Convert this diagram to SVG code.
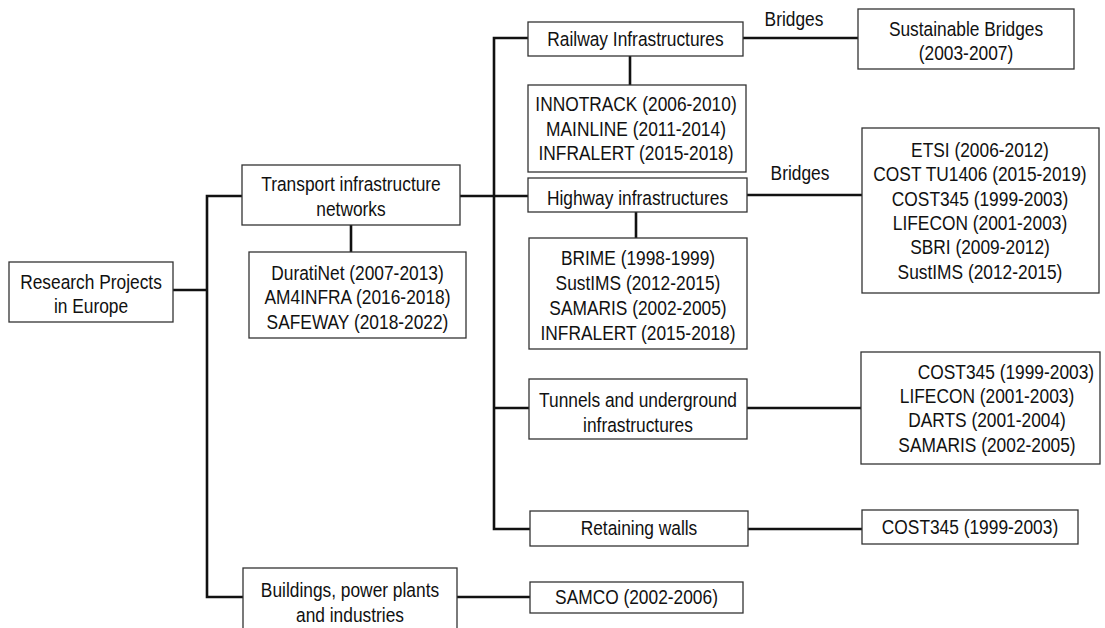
<svg xmlns="http://www.w3.org/2000/svg" width="1105" height="628" viewBox="0 0 1105 628">
<style>
  .box { fill: #ffffff; stroke: #333333; stroke-width: 1.3; }
  .lbl { font-family: "Liberation Sans", Arial, sans-serif; font-size: 19.5px; fill: #111111; text-anchor: middle; }
  .con { fill: none; stroke: #111111; stroke-width: 2.6; }
</style>
<rect x="0" y="0" width="1105" height="628" fill="#ffffff"/>
<g id="connectors">
  <path class="con" d="M173,290 H207"/>
  <path class="con" d="M242,196 H207 V597 H243"/>
  <path class="con" d="M460,196 H528"/>
  <path class="con" d="M351,225 V252"/>
  <path class="con" d="M528,38 H494 V529 H530"/>
  <path class="con" d="M494,408 H529"/>
  <path class="con" d="M743,38 H858"/>
  <path class="con" d="M630,56 V85"/>
  <path class="con" d="M636,212 V238"/>
  <path class="con" d="M747,195 H862"/>
  <path class="con" d="M747,408 H861"/>
  <path class="con" d="M748,529 H862"/>
  <path class="con" d="M457,597 H530"/>
</g>
<g id="edge-labels">
  <text class="lbl" x="794" y="26.5" transform="matrix(0.89 0 0 1 87.34 0)">Bridges</text>
  <text class="lbl" x="800" y="180.5" transform="matrix(0.89 0 0 1 88 0)">Bridges</text>
</g>
<g id="research">
  <rect class="box" x="9" y="262" width="164" height="60"/>
  <g transform="matrix(0.89 0 0 1 10.01 0)">
    <text class="lbl" x="91" y="289">Research Projects</text>
    <text class="lbl" x="91" y="313.5">in Europe</text>
  </g>
</g>
<g id="transport">
  <rect class="box" x="242" y="165" width="218" height="60"/>
  <g transform="matrix(0.89 0 0 1 38.61 0)">
    <text class="lbl" x="351" y="191">Transport infrastructure</text>
    <text class="lbl" x="351" y="216.5">networks</text>
  </g>
</g>
<g id="transport-projects">
  <rect class="box" x="249" y="252" width="217" height="86"/>
  <g transform="matrix(0.89 0 0 1 39.325 0)">
    <text class="lbl" x="357.5" y="280">DuratiNet (2007-2013)</text>
    <text class="lbl" x="357.5" y="304.5">AM4INFRA (2016-2018)</text>
    <text class="lbl" x="357.5" y="329">SAFEWAY (2018-2022)</text>
  </g>
</g>
<g id="railway">
  <rect class="box" x="528" y="22" width="215" height="34"/>
  <g transform="matrix(0.89 0 0 1 69.905 0)">
    <text class="lbl" x="635.5" y="46">Railway Infrastructures</text>
  </g>
</g>
<g id="railway-projects">
  <rect class="box" x="528" y="85" width="218" height="87"/>
  <g transform="matrix(0.89 0 0 1 69.96 0)">
    <text class="lbl" x="636" y="111.5">INNOTRACK (2006-2010)</text>
    <text class="lbl" x="636" y="136">MAINLINE (2011-2014)</text>
    <text class="lbl" x="636" y="160.5">INFRALERT (2015-2018)</text>
  </g>
</g>
<g id="highway">
  <rect class="box" x="528" y="178" width="219" height="34"/>
  <g transform="matrix(0.89 0 0 1 70.125 0)">
    <text class="lbl" x="637.5" y="205">Highway infrastructures</text>
  </g>
</g>
<g id="highway-projects">
  <rect class="box" x="529" y="238" width="218" height="111"/>
  <g transform="matrix(0.89 0 0 1 70.18 0)">
    <text class="lbl" x="638" y="265">BRIME (1998-1999)</text>
    <text class="lbl" x="638" y="290">SustIMS (2012-2015)</text>
    <text class="lbl" x="638" y="315">SAMARIS (2002-2005)</text>
    <text class="lbl" x="638" y="340">INFRALERT (2015-2018)</text>
  </g>
</g>
<g id="tunnels">
  <rect class="box" x="529" y="379" width="218" height="60"/>
  <g transform="matrix(0.89 0 0 1 70.18 0)">
    <text class="lbl" x="638" y="407">Tunnels and underground</text>
    <text class="lbl" x="638" y="432">infrastructures</text>
  </g>
</g>
<g id="retaining">
  <rect class="box" x="530" y="511" width="218" height="35"/>
  <g transform="matrix(0.89 0 0 1 70.29 0)">
    <text class="lbl" x="639" y="535.5">Retaining walls</text>
  </g>
</g>
<g id="buildings">
  <rect class="box" x="243" y="568" width="214" height="75"/>
  <g transform="matrix(0.89 0 0 1 38.5 0)">
    <text class="lbl" x="350" y="597">Buildings, power plants</text>
    <text class="lbl" x="350" y="622">and industries</text>
  </g>
</g>
<g id="samco">
  <rect class="box" x="530" y="582" width="213" height="31"/>
  <g transform="matrix(0.89 0 0 1 70.015 0)">
    <text class="lbl" x="636.5" y="604.5">SAMCO (2002-2006)</text>
  </g>
</g>
<g id="railway-bridges">
  <rect class="box" x="858" y="9" width="216" height="60"/>
  <g transform="matrix(0.89 0 0 1 106.26 0)">
    <text class="lbl" x="966" y="36">Sustainable Bridges</text>
    <text class="lbl" x="966" y="60">(2003-2007)</text>
  </g>
</g>
<g id="highway-bridges">
  <rect class="box" x="862" y="128" width="237" height="165"/>
  <g transform="matrix(0.89 0 0 1 107.8 0)">
    <text class="lbl" x="980" y="157">ETSI (2006-2012)</text>
    <text class="lbl" x="980" y="181.5">COST TU1406 (2015-2019)</text>
    <text class="lbl" x="980" y="206">COST345 (1999-2003)</text>
    <text class="lbl" x="980" y="230">LIFECON (2001-2003)</text>
    <text class="lbl" x="980" y="254.5">SBRI (2009-2012)</text>
    <text class="lbl" x="980" y="279">SustIMS (2012-2015)</text>
  </g>
</g>
<g id="tunnel-projects">
  <rect class="box" x="861" y="352" width="239" height="112"/>
  <g transform="matrix(0.89 0 0 1 108.57 0)">
    <text class="lbl" x="1008.3" y="379">COST345 (1999-2003)</text>
    <text class="lbl" x="987" y="403.5">LIFECON (2001-2003)</text>
    <text class="lbl" x="987" y="427.5">DARTS (2001-2004)</text>
    <text class="lbl" x="987" y="452">SAMARIS (2002-2005)</text>
  </g>
</g>
<g id="retaining-projects">
  <rect class="box" x="862" y="510" width="216" height="34"/>
  <g transform="matrix(0.89 0 0 1 106.7 0)">
    <text class="lbl" x="970" y="534">COST345 (1999-2003)</text>
  </g>
</g>
</svg>
